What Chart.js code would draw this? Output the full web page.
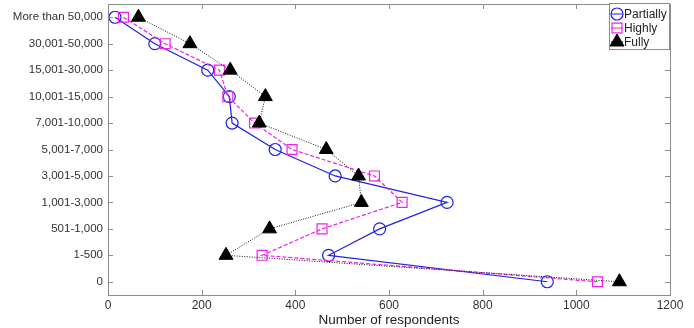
<!DOCTYPE html>
<html>
<head>
<meta charset="utf-8">
<script src="https://cdn.jsdelivr.net/npm/chart.js@4.4.1/dist/chart.umd.min.js"></script>
<style>
  html, body { margin: 0; padding: 0; background: #fff; }
  #wrap { width: 694px; height: 328px; position: relative; }
</style>
</head>
<body>
<div id="wrap"><canvas id="respondentsChart"></canvas></div>
<script>
// categories listed bottom to top (y index 0 .. 10)
const categories = ['0', '1-500', '501-1,000', '1,001-3,000', '3,001-5,000', '5,001-7,000',
    '7,001-10,000', '10,001-15,000', '15,001-30,000', '30,001-50,000', 'More than 50,000'];

const partially = [938, 471, 580, 724, 485, 357, 265, 259, 213, 100, 15];
const highly    = [1045, 329, 457, 628, 569, 393, 313, 256, 238, 122, 33];
const fully     = [1092, 252, 345, 541, 535, 466, 323, 336, 261, 175, 65];

const xTicks = [0, 200, 400, 600, 800, 1000, 1200];

const FONT = '"Liberation Sans", Arial, sans-serif';

function toPoints(values) {
    return values.map((v, i) => ({ x: v, y: i }));
}

// box around the plot with inward ticks, matlab style
const boxPlugin = {
    id: 'boxAxes',
    afterDraw(chart) {
        const ctx = chart.ctx;
        const a = chart.chartArea;
        const xs = chart.scales.x;
        const ys = chart.scales.y;
        ctx.save();
        ctx.strokeStyle = '#8c8c8c';
        ctx.lineWidth = 1;
        ctx.strokeRect(a.left + 0.5, a.top + 0.5, a.right - a.left, a.bottom - a.top);
        ctx.beginPath();
        xTicks.forEach(t => {
            const px = Math.round(xs.getPixelForValue(t)) + 0.5;
            ctx.moveTo(px, a.bottom); ctx.lineTo(px, a.bottom - 5);
            ctx.moveTo(px, a.top); ctx.lineTo(px, a.top + 5);
        });
        categories.forEach((c, i) => {
            const py = Math.round(ys.getPixelForValue(i)) + 0.5;
            ctx.moveTo(a.left, py); ctx.lineTo(a.left + 5, py);
            ctx.moveTo(a.right, py); ctx.lineTo(a.right - 5, py);
        });
        ctx.stroke();
        ctx.restore();
    }
};

// legend inside the top right corner
const cornerLegend = {
    id: 'cornerLegend',
    afterDraw(chart) {
        const ctx = chart.ctx;
        const a = chart.chartArea;
        const bx = a.right - 61, by = a.top - 1, bw = 60, bh = 46;
        ctx.save();
        ctx.fillStyle = '#fff';
        ctx.fillRect(bx, by, bw, bh);
        ctx.strokeStyle = '#8c8c8c';
        ctx.lineWidth = 1;
        ctx.strokeRect(bx + 0.5, by + 0.5, bw, bh);
        ctx.font = '12px ' + FONT;
        ctx.textBaseline = 'middle';
        chart.data.datasets.forEach((ds, i) => {
            const cy = by + 11 + i * 14;
            const mx = bx + 8;
            ctx.strokeStyle = ds.borderColor;
            ctx.lineWidth = 1;
            ctx.setLineDash([]);
            ctx.beginPath();
            ctx.moveTo(mx - 6, cy); ctx.lineTo(mx + 6, cy);
            ctx.stroke();
            ctx.fillStyle = ds.pointBackgroundColor;
            ctx.strokeStyle = ds.pointBorderColor;
            ctx.lineWidth = ds.pointBorderWidth;
            Chart.helpers.drawPoint(ctx, {
                pointStyle: ds.pointStyle,
                radius: ds.pointRadius,
                rotation: 0,
                borderWidth: ds.pointBorderWidth
            }, mx, cy);
            ctx.fillStyle = '#222';
            ctx.fillText(ds.label, mx + 7, cy + 1);
        });
        ctx.restore();
    }
};

function initRespondentsChart() {
    const ctx = document.getElementById('respondentsChart');
    if (!ctx) return;

    const chart = new Chart(ctx, {
        type: 'scatter',
        data: {
            datasets: [{
                label: 'Partially',
                data: toPoints(partially),
                showLine: true,
                borderColor: '#1f1fe6',
                borderWidth: 1.2,
                pointStyle: 'circle',
                pointRadius: 6,
                pointBackgroundColor: 'rgba(0,0,0,0)',
                pointBorderColor: '#1f1fe6',
                pointBorderWidth: 1.2,
                order: 3
            }, {
                label: 'Highly',
                data: toPoints(highly),
                showLine: true,
                borderColor: '#f020e8',
                borderWidth: 1.2,
                borderDash: [4, 2],
                pointStyle: 'rect',
                pointRadius: 7,
                pointBackgroundColor: 'rgba(0,0,0,0)',
                pointBorderColor: '#f020e8',
                pointBorderWidth: 1.2,
                order: 2
            }, {
                label: 'Fully',
                data: toPoints(fully),
                showLine: true,
                borderColor: '#111',
                borderWidth: 1,
                borderDash: [1, 1.5],
                pointStyle: 'triangle',
                pointRadius: 8,
                pointBackgroundColor: '#000',
                pointBorderColor: '#000',
                pointBorderWidth: 1,
                order: 1
            }]
        },
        options: {
            responsive: true,
            maintainAspectRatio: false,
            animation: false,
            layout: {
                autoPadding: false,
                padding: { top: 4, right: 24, left: 0, bottom: 0 }
            },
            plugins: {
                legend: { display: false },
                tooltip: { enabled: false }
            },
            scales: {
                x: {
                    type: 'linear',
                    min: 0,
                    max: 1200,
                    afterBuildTicks: scale => { scale.ticks = xTicks.map(v => ({ value: v })); },
                    grid: { display: false, drawTicks: false },
                    border: { display: false },
                    ticks: {
                        color: '#333',
                        padding: 3,
                        maxRotation: 0,
                        callback: value => String(value),
                        font: { family: FONT, size: 12 }
                    },
                    title: {
                        display: true,
                        text: 'Number of respondents',
                        color: '#222',
                        padding: { top: 0, bottom: 0 },
                        font: { family: FONT, size: 13.5 }
                    },
                    afterFit: scale => {
                        scale.height = 33;
                        scale.paddingLeft = 0;
                        scale.paddingRight = 0;
                    }
                },
                y: {
                    type: 'linear',
                    min: -0.5,
                    max: 10.5,
                    afterBuildTicks: scale => { scale.ticks = categories.map((c, i) => ({ value: i })); },
                    grid: { display: false, drawTicks: false },
                    border: { display: false },
                    ticks: {
                        color: '#333',
                        padding: 5,
                        callback: value => categories[value],
                        font: { family: FONT, size: 11.5 }
                    },
                    afterFit: scale => {
                        scale.width = 108;
                        scale.paddingTop = 0;
                        scale.paddingBottom = 0;
                    }
                }
            }
        },
        plugins: [boxPlugin, cornerLegend]
    });

    window.respondentsChart = chart;
}

document.addEventListener('DOMContentLoaded', initRespondentsChart);
</script>
</body>
</html>
